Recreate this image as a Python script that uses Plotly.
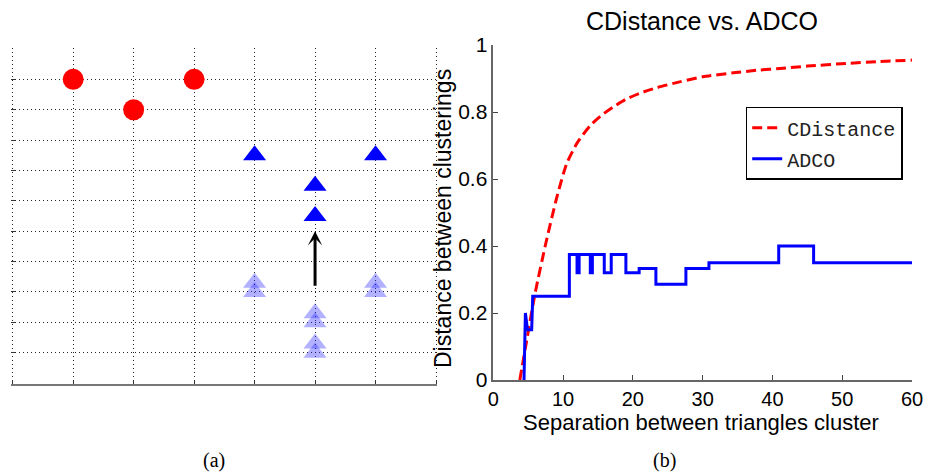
import plotly.graph_objects as go

# ---- panel (a): toy clustering layout ----
circle_x = [1, 2, 3]
circle_y = [10, 9, 10]
tri_x = [4, 5, 5, 6]
tri_y = [7.5, 6.5, 5.5, 7.5]
ghost_x = [4, 4, 5, 5, 5, 5, 6, 6]
ghost_y = [3.3, 3.0, 2.3, 2.0, 1.3, 1.0, 3.3, 3.0]
move_from = (5, 3.15)
move_to = (5, 5.0)

# ---- panel (b): distance vs. separation ----
cdist_x = [3.8, 4.8, 6.0, 7.6, 9.1, 10.5, 12.0, 13.9, 15.5, 17.2, 19.0, 21.0,
           23.5, 26.7, 30.0, 34.4, 38.0, 41.1, 45.0, 50.6, 55.0, 60.0]
cdist_y = [0.0, 0.12, 0.26, 0.415, 0.545, 0.645, 0.707, 0.76, 0.79, 0.815, 0.838, 0.856,
           0.873, 0.89, 0.905, 0.917, 0.925, 0.93, 0.937, 0.945, 0.95, 0.955]
adco_x = [4.4, 4.6, 4.9, 5.5, 5.65, 10.9, 10.9, 12.0, 12.0, 12.3, 12.3, 13.9, 13.9,
          14.2, 14.2, 15.9, 15.9, 16.9, 16.9, 19.0, 19.0, 20.9, 20.9, 23.3, 23.3,
          27.6, 27.6, 30.9, 30.9, 40.9, 40.9, 45.9, 45.9, 60.0]
adco_y = [0.0, 0.2, 0.15, 0.15, 0.25, 0.25, 0.375, 0.375, 0.32, 0.32, 0.375, 0.375, 0.32,
          0.32, 0.375, 0.375, 0.32, 0.32, 0.375, 0.375, 0.32, 0.32, 0.333, 0.333, 0.286,
          0.286, 0.333, 0.333, 0.35, 0.35, 0.4, 0.4, 0.35, 0.35]
x_ticks = [0, 10, 20, 30, 40, 50, 60]
y_ticks = [0, 0.2, 0.4, 0.6, 0.8, 1]

W, H = 925, 474
SANS = "Liberation Sans, Arial, sans-serif"

# panel (a) pixel frame; a tiny range pad keeps the edge grid lines visible
AX0, AX1, AY0, AY1 = 12.7, 436.0, 383.0, 49.0
PAD = 0.02
px_per_x = (AX1 - AX0) / 7
px_per_y = (AY0 - AY1) / 11
xa_dom = [(AX0 - PAD * px_per_x) / W, (AX1 + PAD * px_per_x) / W]
ya_dom = [(H - AY0 - PAD * px_per_y) / H, (H - AY1 + PAD * px_per_y) / H]

fig = go.Figure()

# panel (a)
fig.add_trace(go.Scatter(x=circle_x, y=circle_y, mode="markers", showlegend=False,
                         marker=dict(symbol="circle", size=21, color="#ff0000", line_width=0),
                         xaxis="x", yaxis="y"))
fig.add_trace(go.Scatter(x=ghost_x, y=ghost_y, mode="markers", showlegend=False,
                         marker=dict(symbol="triangle-up", size=20, color="rgba(40,40,255,0.36)",
                                     line_width=0),
                         xaxis="x", yaxis="y"))
fig.add_trace(go.Scatter(x=tri_x, y=tri_y, mode="markers", showlegend=False,
                         marker=dict(symbol="triangle-up", size=20, color="#0000ff", line_width=0),
                         xaxis="x", yaxis="y"))

# panel (b)
fig.add_trace(go.Scatter(x=cdist_x, y=cdist_y, mode="lines", name="CDistance",
                         line=dict(color="#ff0000", width=3, dash="10px,5px",
                                   shape="spline", smoothing=0.6),
                         legendgroup="a", xaxis="x2", yaxis="y2"))
fig.add_trace(go.Scatter(x=adco_x, y=adco_y, mode="lines", name="ADCO",
                         line=dict(color="#0000ff", width=3),
                         legendgroup="b", xaxis="x2", yaxis="y2"))

grid = dict(showgrid=True, gridcolor="rgba(0,0,0,0.85)", griddash="1px,3px", gridwidth=1,
            zeroline=False, automargin=False)

fig.update_layout(
    width=W, height=H,
    margin=dict(l=0, r=0, t=0, b=0, pad=0, autoexpand=False),
    paper_bgcolor="white", plot_bgcolor="white",
    font=dict(family=SANS, color="black"),
    xaxis=dict(domain=xa_dom, range=[-PAD, 7 + PAD], tickvals=list(range(8)),
               showticklabels=False, ticks="inside", ticklen=4, tickcolor="#333",
               showline=True, linecolor="#777", linewidth=2, anchor="y", **grid),
    yaxis=dict(domain=ya_dom, range=[-PAD, 11 + PAD], tickvals=list(range(12)),
               showticklabels=False, ticks="inside", ticklen=4, tickcolor="#333",
               showline=False, anchor="x", **grid),
    xaxis2=dict(domain=[493.3 / W, 912 / W], range=[0, 60], tickvals=x_ticks,
                showgrid=False, zeroline=False, showline=True, linecolor="#666",
                linewidth=1.5, ticks="inside", ticklen=5, tickcolor="#444",
                tickfont=dict(size=20, family=SANS),
                anchor="y2", automargin=False),
    yaxis2=dict(domain=[(H - 380) / H, (H - 45) / H], range=[0, 1], tickvals=y_ticks,
                showgrid=False, zeroline=False, showline=True, linecolor="#666",
                linewidth=1.5, ticks="inside", ticklen=5, tickcolor="#444",
                tickfont=dict(size=21, family=SANS),
                anchor="x2", automargin=False),
    legend=dict(x=745.7 / W, y=(H - 106.7) / H, xanchor="left", yanchor="top",
                bgcolor="white", bordercolor="black", borderwidth=1.5,
                font=dict(family="Liberation Mono, Courier New, monospace", size=20,
                          color="#222"),
                traceorder="grouped", tracegroupgap=2),
)

fig.add_annotation(x=move_to[0], y=move_to[1], ax=move_from[0], ay=move_from[1],
                   xref="x", yref="y", axref="x", ayref="y", text="", showarrow=True,
                   arrowhead=3, arrowsize=0.8, arrowwidth=3, arrowcolor="black",
                   standoff=0, startstandoff=0)

fig.add_annotation(text="CDistance vs. ADCO", x=702 / W, y=(H - 21) / H, xref="paper",
                   yref="paper", showarrow=False, xanchor="center", yanchor="middle",
                   font=dict(size=25, family=SANS))
fig.add_annotation(text="Separation between triangles cluster", x=701 / W, y=(H - 422) / H,
                   xref="paper", yref="paper", showarrow=False, xanchor="center",
                   yanchor="middle", font=dict(size=22, family=SANS))
fig.add_annotation(text="Distance between clusterings", x=443 / W, y=(H - 219) / H,
                   xref="paper", yref="paper", showarrow=False, textangle=-90,
                   xanchor="center", yanchor="middle", font=dict(size=23, family=SANS))
fig.add_annotation(text="(a)", x=214 / W, y=(H - 460) / H, xref="paper", yref="paper",
                   showarrow=False, xanchor="center", yanchor="middle",
                   font=dict(size=20, family="Liberation Serif, Times New Roman, serif"))
fig.add_annotation(text="(b)", x=664 / W, y=(H - 460) / H, xref="paper", yref="paper",
                   showarrow=False, xanchor="center", yanchor="middle",
                   font=dict(size=20, family="Liberation Serif, Times New Roman, serif"))

fig.write_html("out.html")
